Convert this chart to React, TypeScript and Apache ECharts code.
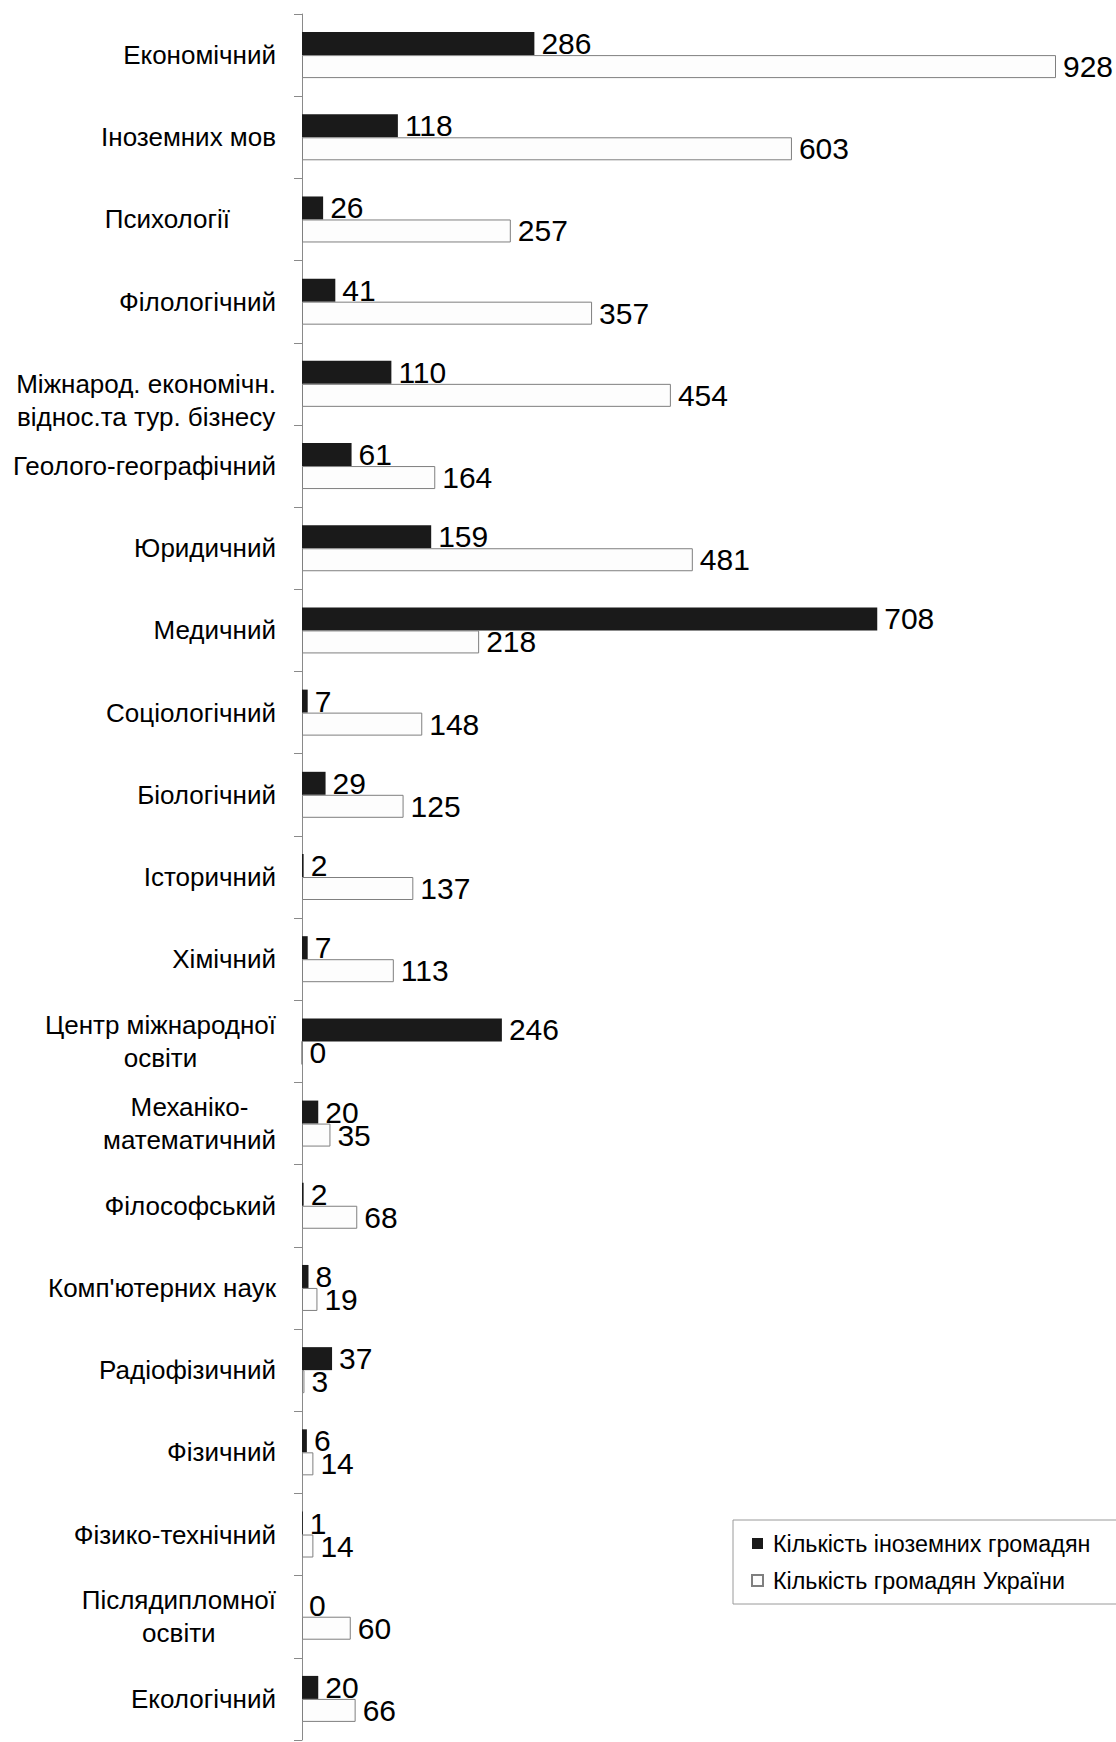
import React, { useEffect, useRef } from "react";
import * as echarts from "echarts";

const categories = [
  "Економічний",
  "Іноземних мов",
  "Психології",
  "Філологічний",
  "Міжнарод. економічн.\nвіднос.та тур. бізнесу",
  "Геолого-географічний",
  "Юридичний",
  "Медичний",
  "Соціологічний",
  "Біологічний",
  "Історичний",
  "Хімічний",
  "Центр міжнародної\nосвіти",
  "Механіко-\nматематичний",
  "Філософський",
  "Комп'ютерних наук",
  "Радіофізичний",
  "Фізичний",
  "Фізико-технічний",
  "Післядипломної\nосвіти",
  "Екологічний",
];

const foreignCitizens = [286, 118, 26, 41, 110, 61, 159, 708, 7, 29, 2, 7, 246, 20, 2, 8, 37, 6, 1, 0, 20];
const ukrainianCitizens = [928, 603, 257, 357, 454, 164, 481, 218, 148, 125, 137, 113, 0, 35, 68, 19, 3, 14, 14, 60, 66];

const seriesNames = ["Кількість іноземних громадян", "Кількість громадян України"];

const FONT = "'Liberation Sans', Arial, sans-serif";

export default function App() {
  const ref = useRef<HTMLDivElement>(null);

  useEffect(() => {
    if (!ref.current) return;
    const chart = echarts.init(ref.current, null, { renderer: "svg" });
    const labelStyle = {
      show: true,
      position: "right",
      distance: 7,
      color: "#000",
      fontSize: 30,
      fontFamily: FONT,
    };
    chart.setOption({
      animation: false,
      backgroundColor: "#fff",
      grid: { left: 302, right: 1.5, top: 14, bottom: 2, containLabel: false },
      xAxis: {
        type: "value",
        min: 0,
        max: 1000,
        show: false,
      },
      yAxis: {
        type: "category",
        inverse: true,
        data: categories,
        axisLine: { show: true, lineStyle: { color: "#8a8a8a", width: 1 } },
        axisTick: { show: true, length: 8, lineStyle: { color: "#8a8a8a" } },
        splitLine: { show: false },
        axisLabel: {
          margin: 26,
          align: "right",
          color: "#000",
          fontSize: 26,
          fontFamily: FONT,
          lineHeight: 33,
          formatter: (value: string, index: number) => {
            if (index === 2) return `{p|${value}}`;
            const s = value
              .split("\n")
              .map((l) => `{c|${l}}`)
              .join("\n");
            return index === 4 ? "\n" + s : s;
          },
          rich: {
            c: { align: "center", fontSize: 26, fontFamily: FONT, color: "#000", lineHeight: 33 },
            p: { fontSize: 26, fontFamily: FONT, color: "#000", lineHeight: 33, padding: [0, 46, 0, 0] },
          },
        },
      },
      legend: {
        orient: "vertical",
        left: 733,
        top: 1520,
        padding: [12, 38, 12, 18],
        itemGap: 14,
        itemWidth: 11,
        itemHeight: 11,
        icon: "rect",
        borderColor: "#9a9a9a",
        borderWidth: 1,
        textStyle: { color: "#000", fontSize: 23.3, fontFamily: FONT, padding: [0, 0, 0, 5] },
        data: seriesNames,
      },
      series: [
        {
          name: seriesNames[0],
          type: "bar",
          data: foreignCitizens,
          barWidth: 23,
          barGap: "0%",
          itemStyle: { color: "#1a1a1a" },
          label: labelStyle,
        },
        {
          name: seriesNames[1],
          type: "bar",
          data: ukrainianCitizens,
          barWidth: 23,
          barGap: "0%",
          itemStyle: { color: "#fdfdfd", borderColor: "#7f7f7f", borderWidth: 1 },
          label: labelStyle,
        },
      ],
    });
    return () => chart.dispose();
  }, []);

  return (
    <div
      ref={ref}
      style={{ position: "absolute", left: 0, top: 0, width: 1116, height: 1742 }}
    />
  );
}
